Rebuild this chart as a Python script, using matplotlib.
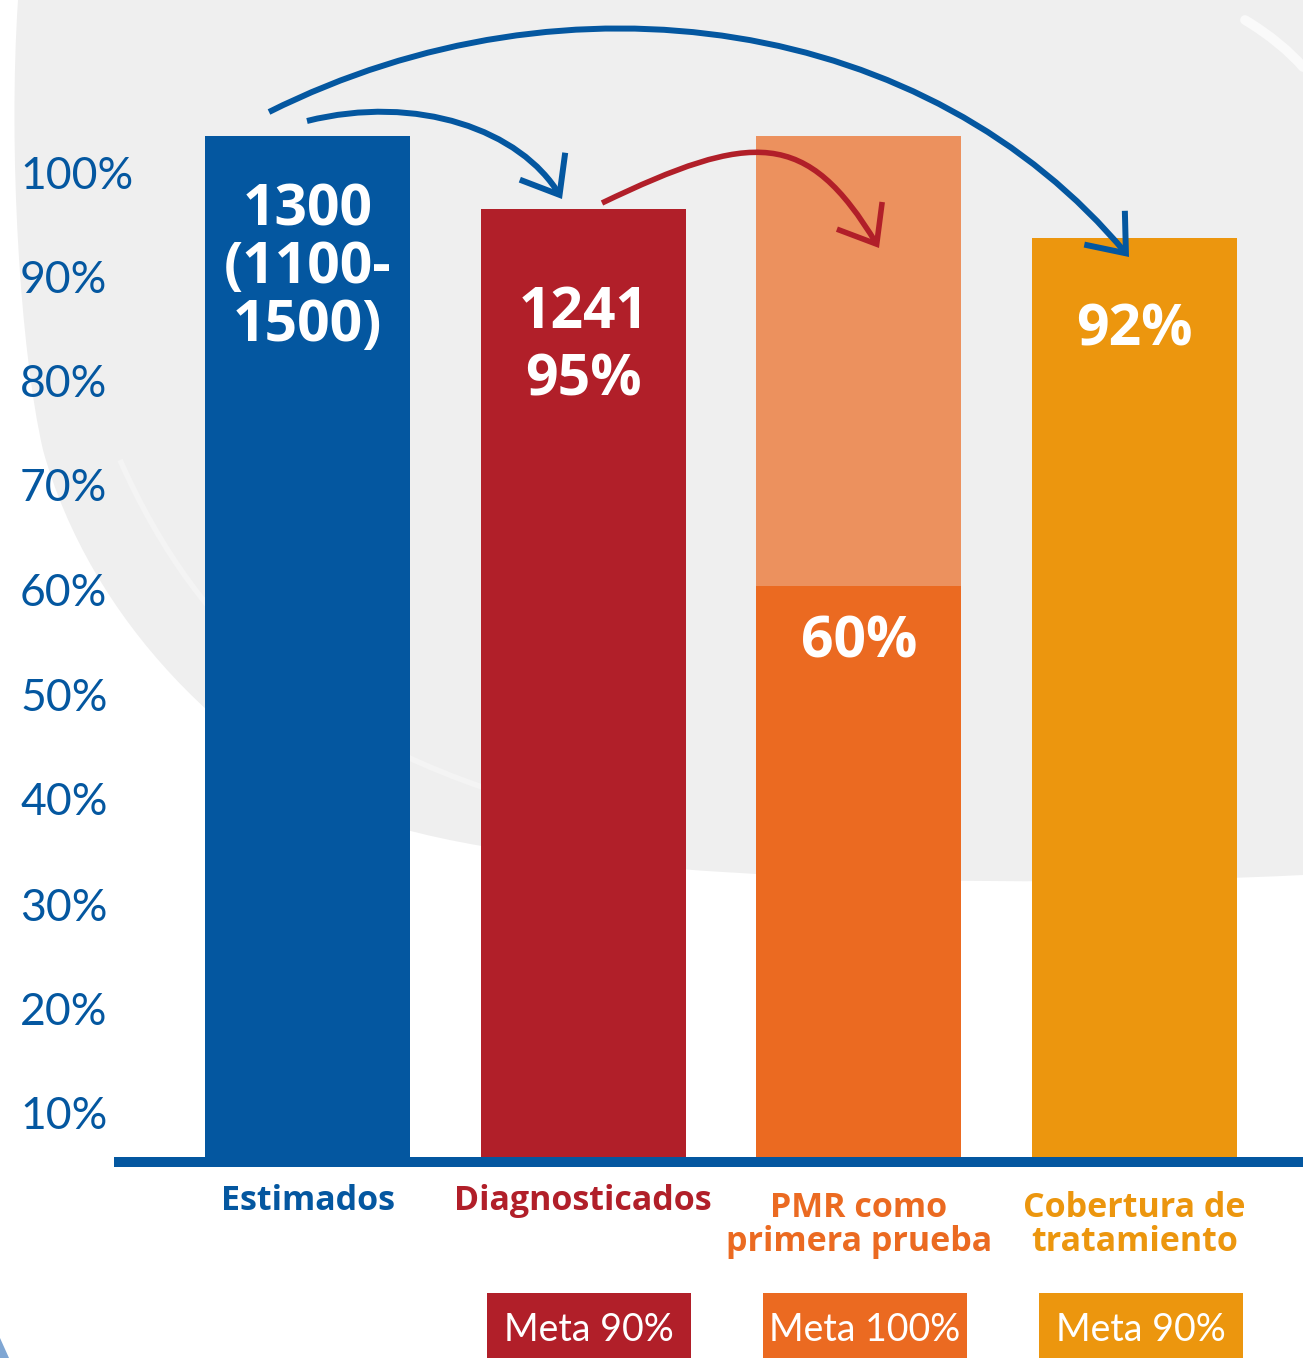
import matplotlib
matplotlib.use("Agg")
import matplotlib.pyplot as plt
from matplotlib.path import Path
from matplotlib.patches import FancyArrowPatch, PathPatch

# ---- data ----
categories = ["Estimados", "Diagnosticados", "PMR como\nprimera prueba",
              "Cobertura de\ntratamiento"]
bar_heights = [100, 92.9, 56.1, 90.0]      # alturas visuales de las barras
pmr_background = 100                        # parte clara de la barra PMR
bar_texts = [["1300", "(1100-", "1500)"], ["1241", "95%"], ["60%"], ["92%"]]
metas = ["", "Meta 90%", "Meta 100%", "Meta 90%"]
tick_labels = ["100%", "90%", "80%", "70%", "60%", "50%", "40%", "30%", "20%", "10%"]
tick_pos = [96.0, 85.9, 75.7, 65.6, 55.3, 45.1, 34.9, 24.6, 14.4, 4.2]

BLUE = "#0457A0"
RED = "#B11F29"
ORANGE = "#EB6A21"
ORANGE_LIGHT = "#EC915E"
AMBER = "#EC960E"
colors = [BLUE, RED, ORANGE, AMBER]

W, H = 1303, 1358
X0, XS = 307.5, 275.7      # px of first bar centre, px per category
Y0, YS = 1160, 10.24       # px of baseline, px per unit


def px(x, y):
    """pixel (x right, y down) -> data coords"""
    return (x - X0) / XS, (Y0 - y) / YS


fig = plt.figure(figsize=(W / 100, H / 100), dpi=100)
ax = fig.add_axes([0, 0, 1, 1])
ax.set_xlim(px(0, 0)[0], px(W, 0)[0])
ax.set_ylim(px(0, H)[1], px(0, 0)[1])
ax.axis("off")

# fondo gris curvo
bg = [px(0, 0), px(18, 0), px(8, 150), px(20, 350), px(43, 450),
      px(90, 620), px(230, 760), px(383, 823),
      px(560, 880), px(1000, 890), px(W, 875), px(W, 0), px(0, 0)]
codes = [Path.MOVETO, Path.LINETO] + [Path.CURVE4] * 9 + [Path.LINETO, Path.CLOSEPOLY]
ax.add_patch(PathPatch(Path(bg, codes), fc="#EFEFEF", ec="none", zorder=0))
inner = [px(120, 460), px(200, 640), px(330, 760), px(600, 820)]
ax.add_patch(PathPatch(Path(inner, [Path.MOVETO] + [Path.CURVE4] * 3),
                       fc="none", ec="#F4F4F4", lw=4, zorder=0.5))
stroke = [px(1245, 20), px(1270, 35), px(1290, 52), px(1303, 67)]
ax.add_patch(PathPatch(Path(stroke, [Path.MOVETO] + [Path.CURVE4] * 3),
                       fc="none", ec="#FAFAFA", lw=7, capstyle="round", zorder=0.5))

xs = list(range(len(categories)))
bw = 205 / XS
ax.bar(2, pmr_background, width=bw, color=ORANGE_LIGHT, zorder=2)
ax.bar(xs, bar_heights, width=bw, color=colors, zorder=2)

# linea base
xl0 = px(114, 0)[0]
ax.plot([xl0, px(W, 0)[0]], [px(0, 1162)[1]] * 2, color=BLUE, lw=7.2,
        solid_capstyle="butt", zorder=3)

# etiquetas eje y
for lab, yv in zip(tick_labels, tick_pos):
    ax.text(px(20, 0)[0], yv, lab, ha="left", va="center", fontsize=32,
            family="Lato", color=BLUE)

# textos dentro de las barras
text_y = [[210, 268, 326], [313, 381], [643], [330]]
for i, (lines, ys) in enumerate(zip(bar_texts, text_y)):
    for s, yp in zip(lines, ys):
        ax.text(i, px(0, yp)[1], s, ha="center", va="center", fontsize=41,
                family="Open Sans", fontweight="bold", color="white", zorder=4)

# categorias
for i, (c, col) in enumerate(zip(categories, colors)):
    yp = 1225 if "\n" in c else 1201
    ax.text(i, px(0, yp)[1], c, ha="center", va="center", fontsize=24.5,
            family="Open Sans", fontweight="bold", color=col,
            linespacing=1.0)

# cajas meta
mb, mt = px(0, H + 5)[1], px(0, 1293)[1]
off = 6 / XS
for i, (m, col) in enumerate(zip(metas, colors)):
    if not m:
        continue
    ax.bar(i + off, mt - mb, bottom=mb, width=204 / XS, color=col, zorder=2)
    ax.text(i + off, px(0, 1330)[1], m, ha="center", va="center", fontsize=27,
            family="Lato", color="white", zorder=4)


# flechas curvas
def arrow(pts, col, lw):
    path = Path([px(*p) for p in pts], [Path.MOVETO] + [Path.CURVE4] * 3)
    ax.add_patch(FancyArrowPatch(path=path, arrowstyle="->,head_length=24,head_width=19",
                                 color=col, lw=lw, mutation_scale=1,
                                 joinstyle="miter", capstyle="butt", zorder=5))


arrow([(269, 112), (569, -38), (929, 17), (1129, 257)], BLUE, 4.3)
arrow([(307, 121), (417, 93.5), (521, 130), (562, 199)], BLUE, 4.3)
arrow([(602, 203), (752, 131), (807, 128), (879, 248)], RED, 4.0)

# esquina inferior izquierda
ax.add_patch(plt.Polygon([px(0, 1338), px(9, H), px(0, H)], closed=True,
                         fc="#7FA6D3", ec="none", zorder=1))

fig.savefig("out.png", dpi=100)
